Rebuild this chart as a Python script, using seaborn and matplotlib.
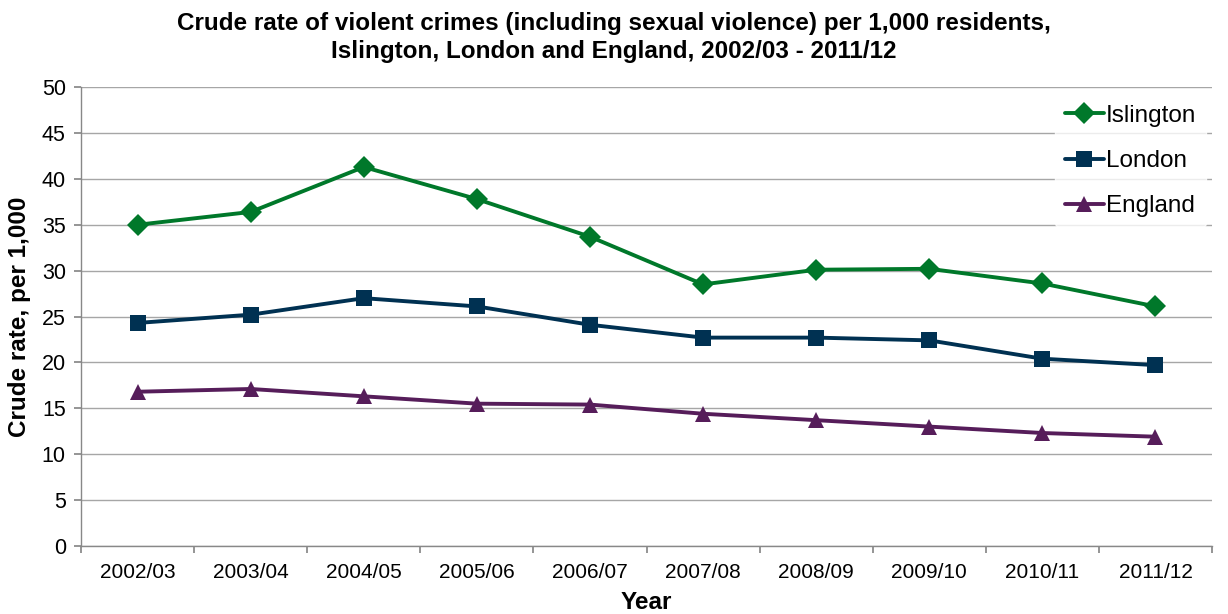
import matplotlib
matplotlib.use("Agg")
import matplotlib.pyplot as plt
import seaborn as sns
import pandas as pd
import numpy as np
from matplotlib.ticker import FixedLocator

years = ["2002/03", "2003/04", "2004/05", "2005/06", "2006/07",
         "2007/08", "2008/09", "2009/10", "2010/11", "2011/12"]
islington = [35.0, 36.4, 41.3, 37.8, 33.7, 28.5, 30.1, 30.2, 28.6, 26.1]
london = [24.3, 25.2, 27.0, 26.1, 24.1, 22.7, 22.7, 22.4, 20.4, 19.7]
england = [16.8, 17.1, 16.3, 15.5, 15.4, 14.4, 13.7, 13.0, 12.3, 11.9]

series_names = ["Islington", "London", "England"]
colors = {"Islington": "#00782A", "London": "#003152", "England": "#561D5A"}
markers = {"Islington": "D", "London": "s", "England": "^"}

rows = []
for name, vals in zip(series_names, [islington, london, england]):
    for i, (y, v) in enumerate(zip(years, vals)):
        rows.append({"pos": i, "Year": y, "value": v, "Area": name})
df = pd.DataFrame(rows)

sns.set_theme(style="white")
plt.rcParams["font.family"] = ["Liberation Sans", "DejaVu Sans"]
plt.rcParams["text.color"] = "black"
plt.rcParams["axes.labelcolor"] = "black"
plt.rcParams["xtick.color"] = "black"
plt.rcParams["ytick.color"] = "black"

fig = plt.figure(figsize=(12.28, 6.14), dpi=100)
ax = fig.add_axes([0.066, 0.111, 0.921, 0.747])

sns.lineplot(data=df, x="pos", y="value", hue="Area", style="Area",
             palette=colors, markers=markers, dashes=False,
             hue_order=series_names, style_order=series_names,
             linewidth=2.8, markersize=11, markeredgewidth=0, ax=ax)

ax.set_xlim(-0.5, len(years) - 0.5)
ax.set_ylim(0, 50)
ax.set_yticks(np.arange(0, 51, 5))
ax.yaxis.grid(True, color="#A6A6A6", linewidth=1)
ax.set_axisbelow(True)

ax.xaxis.set_major_locator(FixedLocator(np.arange(-0.5, len(years), 1.0)))
ax.xaxis.set_minor_locator(FixedLocator(np.arange(len(years))))
ax.set_xticklabels([""] * (len(years) + 1))
ax.set_xticklabels(years, minor=True)
ax.tick_params(axis="x", which="major", length=5, color="#888888", direction="out", bottom=True)
ax.tick_params(axis="x", which="minor", length=0, labelsize=15, pad=12, labelcolor="#000000")
ax.tick_params(axis="y", which="major", length=5, color="#888888", direction="out", left=True,
               labelsize=15.5, labelcolor="#000000", pad=6)

for side in ["top", "right"]:
    ax.spines[side].set_visible(False)
for side in ["left", "bottom"]:
    ax.spines[side].set_color("#888888")
    ax.spines[side].set_linewidth(1)

ax.set_xlabel("Year", fontsize=17.5, fontweight="bold", labelpad=7)
ax.set_ylabel("Crude rate, per 1,000", fontsize=17.5, fontweight="bold", labelpad=8)

fig.suptitle("Crude rate of violent crimes (including sexual violence) per 1,000 residents,\n"
             "Islington, London and England, 2002/03 - 2011/12",
             fontsize=17.5, fontweight="bold", y=0.98, linespacing=1.25, color="black")

leg = ax.legend(loc="upper right", bbox_to_anchor=(0.999, 0.993), frameon=True,
                fontsize=17.5, handlelength=1.6, handletextpad=0.1,
                labelspacing=0.95, borderaxespad=0.2)
leg.get_frame().set_facecolor("white")
leg.get_frame().set_edgecolor("white")

fig.savefig("out.png", dpi=100)
